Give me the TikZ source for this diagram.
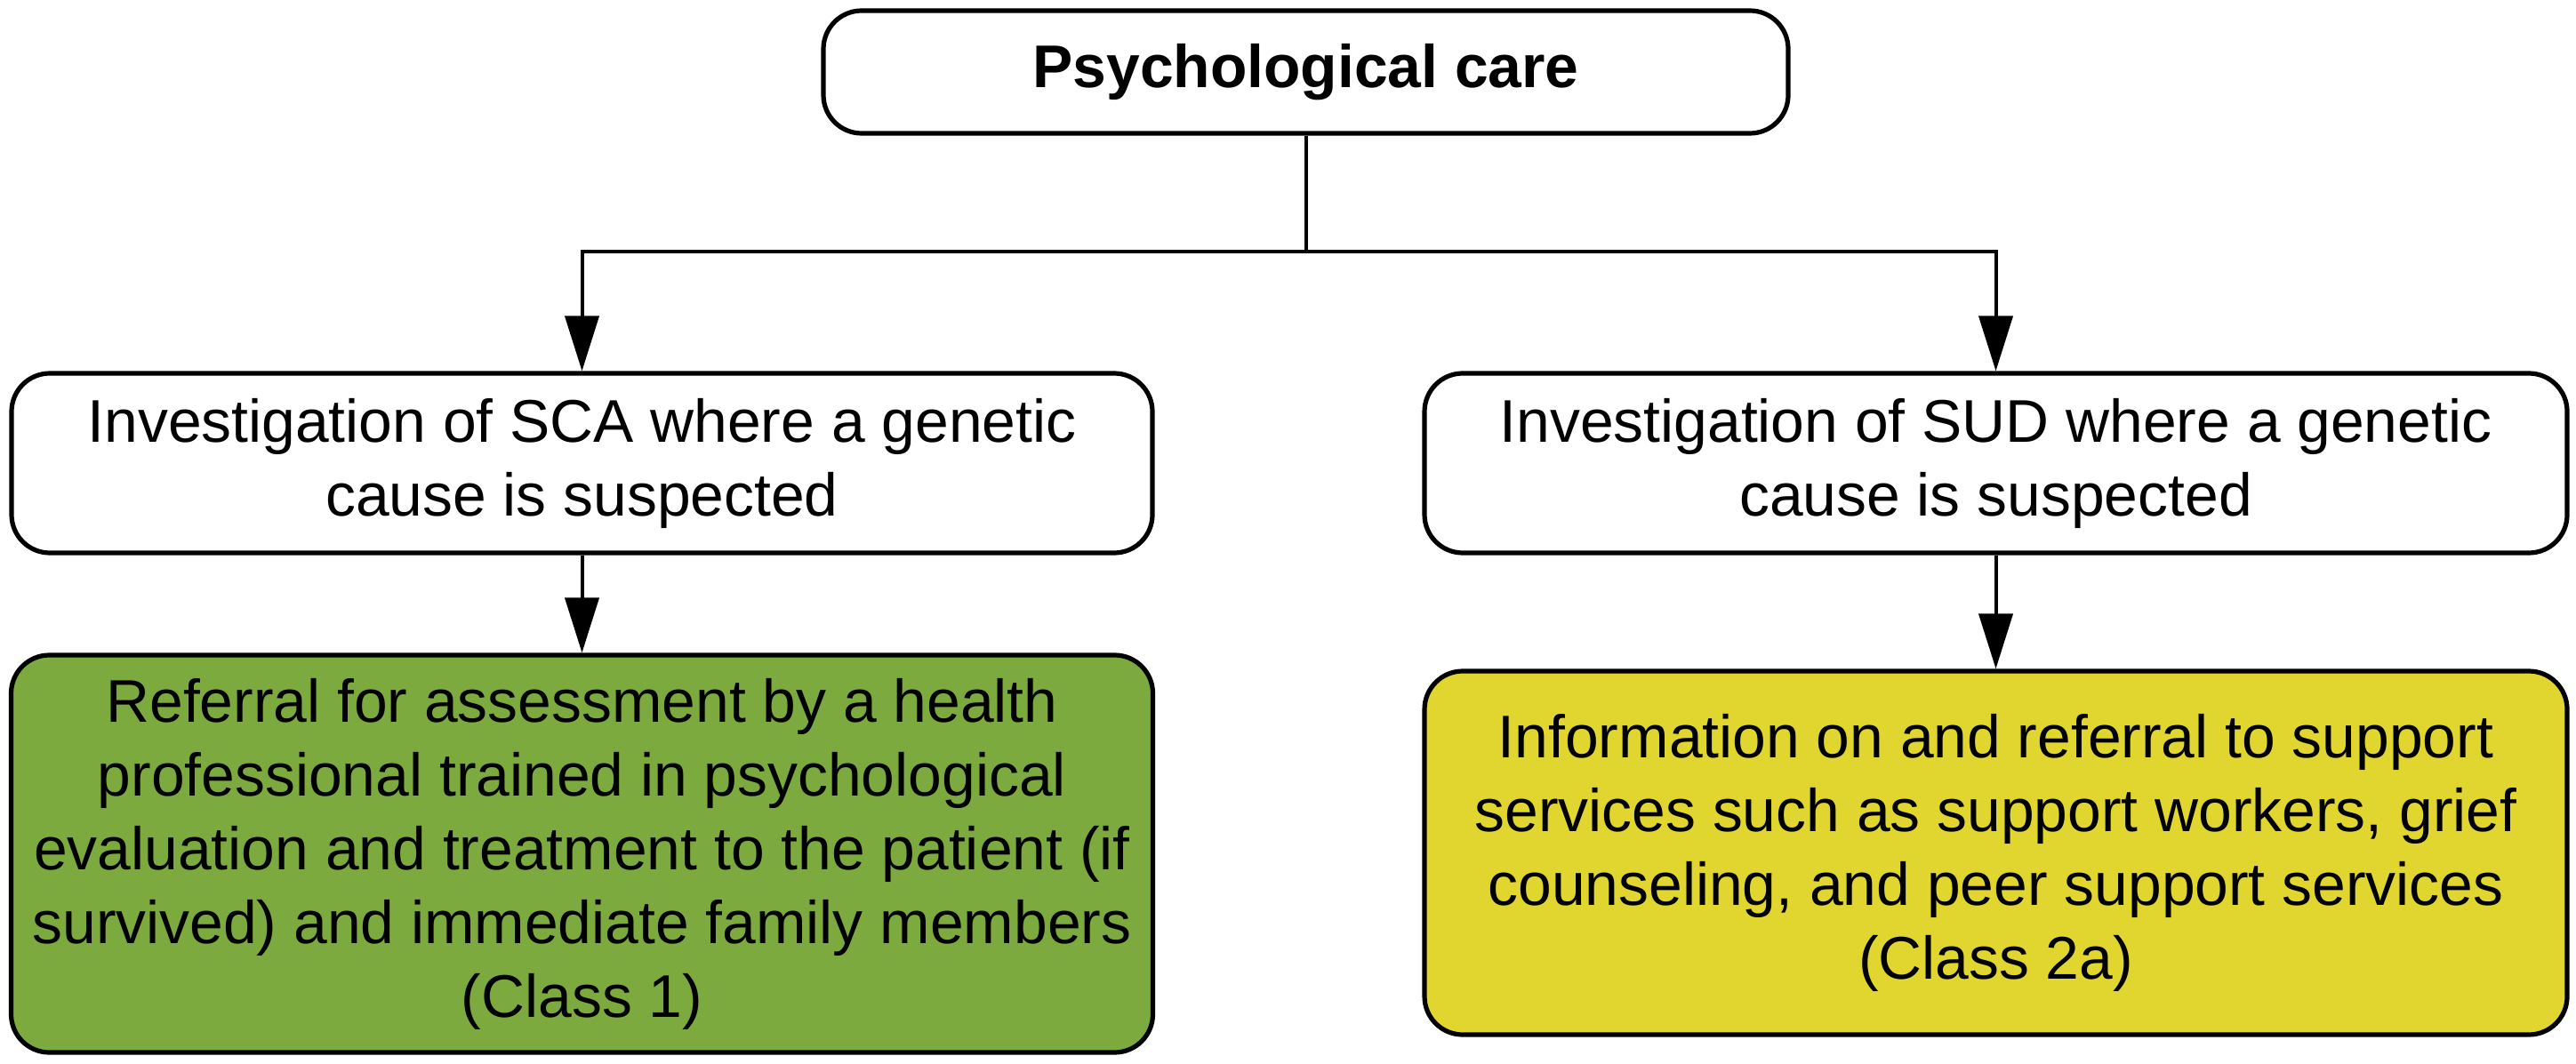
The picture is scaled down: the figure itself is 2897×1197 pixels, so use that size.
\documentclass[tikz,border=0pt]{standalone}
\usepackage{fontspec}
\setmainfont{Liberation Sans}
\usetikzlibrary{arrows.meta}
\definecolor{boxgreen}{HTML}{7CAA3E}
\definecolor{boxyellow}{HTML}{E1D530}
\tikzset{
  box/.style={draw=black, line width=1.3pt, rounded corners=10.75pt, inner sep=0pt,
    align=center, font=\fontsize{16.95}{20.75}\selectfont, fill=white},
  conn/.style={draw=black, line width=1pt},
  arr/.style={conn, -{Triangle[length=15.5pt,width=9.5pt]}},
}
\begin{document}
\begin{tikzpicture}[x=0.25pt,y=-0.25pt]
\useasboundingbox (0,0) rectangle (2897,1197);
\node[box, minimum width=271.25pt, minimum height=34.5pt] (top) at (1468.5,81)
  {\bfseries Psychological care};
\node[box, minimum width=320.75pt, minimum height=50.5pt] (leftmid) at (654.5,521)
  {Investigation of SCA where a genetic\\cause is suspected};
\node[box, minimum width=321.25pt, minimum height=50.5pt] (rightmid) at (2244.5,521)
  {Investigation of SUD where a genetic\\cause is suspected};
\node[box, fill=boxgreen, minimum width=321pt, minimum height=111.75pt] (green) at (654.5,960.5)
  {Referral for assessment by a health\\professional trained in psychological\\evaluation and treatment to the patient (if\\survived) and immediate family members\\(Class 1)};
\node[box, fill=boxyellow, minimum width=321.25pt, minimum height=102.25pt] (yellow) at (2244.5,959.5)
  {Information on and referral to support\\services such as support workers, grief\\counseling, and peer support services\\(Class 2a)};
\coordinate (bus) at (1468.5,283);
\draw[conn] (top.south) -- (bus);
\draw[arr] (bus) -| (leftmid.north);
\draw[arr] (bus) -| (rightmid.north);
\draw[arr] (leftmid.south) -- (green.north);
\draw[arr] (rightmid.south) -- (yellow.north);
\end{tikzpicture}
\end{document}
